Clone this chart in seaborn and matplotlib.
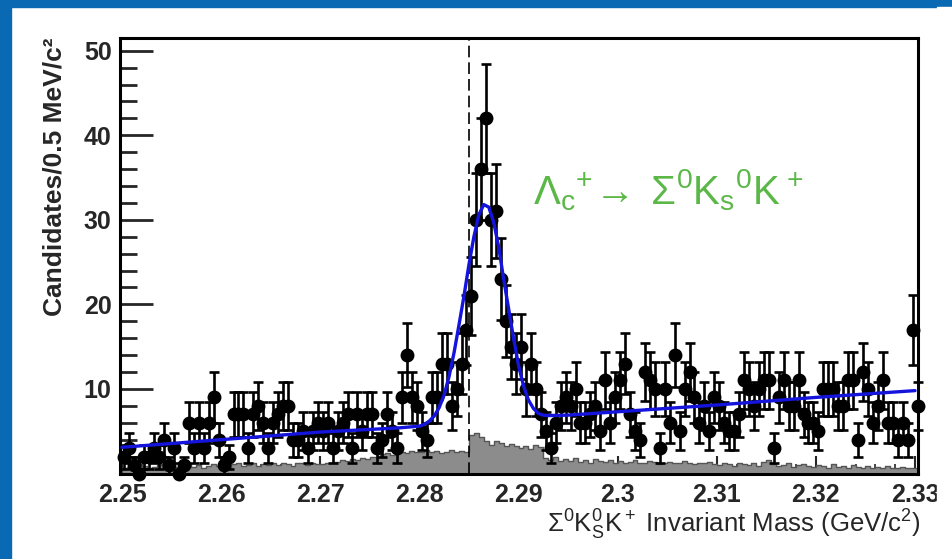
import numpy as np
import pandas as pd
import matplotlib
matplotlib.use("Agg")
import matplotlib.pyplot as plt
from matplotlib.patches import Rectangle
from matplotlib.ticker import MultipleLocator
import seaborn as sns

# binning: 0.5 MeV bins starting at 2.25 GeV
bin_start = 2.25
bin_width = 0.0005

# candidates per bin
counts = [
    2, 3, 1, 0, 2, 2, 3, 2, 4, 1,
    3, 0, 1, 6, 3, 6, 3, 6, 9, 4,
    1, 2, 7, 7, 7, 3, 7, 8, 6, 3,
    6, 7, 8, 8, 4, 4, 5, 3, 5, 6,
    5, 6, 3, 5, 6, 7, 3, 7, 5, 7,
    7, 3, 4, 7, 5, 3, 9, 14, 9, 8,
    5, 4, 9, 9, 13, 13, 8, 10, 13, 17,
    21, 30, 36, 42, 30, 31, 23, 18, 15, 13,
    15, 10, 13, 10, 7, 5, 3, 6, 8, 9,
    8, 10, 6, 6, 7, 8, 5, 11, 6, 9,
    11, 13, 7, 5, 4, 12, 11, 10, 3, 10,
    6, 14, 5, 10, 12, 9, 6, 8, 5, 9,
    8, 6, 5, 5, 7, 11, 10, 8, 10, 11,
    11, 3, 9, 11, 8, 8, 11, 7, 6, 6,
    5, 10, 10, 10, 8, 8, 11, 11, 4, 12,
    10, 6, 8, 11, 6, 6, 4, 6, 4, 17, 8,
]

# grey background histogram
background = [
    0.6, 0.8, 0.5, 0.7, 0.9, 0.6, 0.8, 1.0, 0.7, 0.9,
    0.8, 0.6, 0.9, 1.1, 0.8, 1.0, 0.7, 0.9, 1.1, 0.9,
    1.0, 0.8, 1.1, 1.2, 0.9, 1.0, 1.2, 0.9, 1.1, 1.0,
    1.2, 1.0, 1.3, 1.1, 0.9, 1.2, 1.3, 1.0, 1.2, 1.1,
    1.1, 1.3, 1.2, 1.4, 1.6, 1.5, 1.7, 1.6, 1.8, 1.7,
    2.0, 1.9, 2.3, 2.4, 2.2, 2.5, 2.6, 2.4, 2.7, 2.6,
    2.5, 2.8, 2.6, 2.7, 2.4, 2.6, 2.8, 2.5, 2.7, 2.6,
    4.6, 4.8, 4.3, 3.9, 3.4, 3.8, 3.6, 3.3, 3.5, 3.2,
    3.0, 3.3, 2.9, 3.4, 3.1, 1.8, 1.6, 1.9, 1.5, 1.7,
    1.5, 1.8, 1.4, 1.6, 1.3, 1.7, 1.5, 1.4, 1.6, 1.3,
    1.5, 1.2, 1.4, 1.6, 1.3, 1.2, 1.5, 1.4, 1.1, 1.3,
    1.4, 1.2, 1.3, 1.5, 1.2, 1.1, 1.3, 1.2, 1.4, 1.1,
    1.0, 1.2, 1.1, 0.9, 1.3, 1.1, 1.0, 1.2, 0.9, 1.4,
    1.6, 1.1, 0.9, 1.0, 1.2, 0.8, 1.0, 1.1, 0.9, 0.8,
    1.0, 0.9, 0.7, 1.1, 0.8, 0.9, 0.7, 1.0, 0.8, 0.6,
    0.9, 0.7, 0.8, 0.6, 0.9, 0.7, 0.6, 0.8, 0.7, 0.6, 0.7,
]

# fit curve, points
fit_mass = [
    2.250, 2.260, 2.270, 2.278, 2.280, 2.2805, 2.281, 2.2815, 2.282, 2.2825,
    2.283, 2.2835, 2.284, 2.2845, 2.285, 2.2855, 2.286, 2.2865, 2.287, 2.2875,
    2.288, 2.2885, 2.289, 2.2895, 2.290, 2.2905, 2.291, 2.2915, 2.292, 2.2925,
    2.293, 2.295, 2.300, 2.310, 2.320, 2.330,
]
fit_counts = [
    3.1, 4.0, 4.9, 5.4, 5.6, 5.8, 6.2, 6.8, 7.8, 9.3,
    11.5, 14.3, 17.6, 21.0, 24.7, 28.0, 30.6, 31.8, 31.5, 29.7,
    26.8, 23.0, 19.5, 16.0, 12.8, 10.4, 8.7, 7.7, 7.1, 6.9,
    6.85, 6.9, 7.3, 8.1, 9.0, 9.8,
]

signal_mass = 2.285
tick_labels = ["2.25", "2.26", "2.27", "2.28", "2.29", "2.3", "2.31", "2.32", "2.33"]

sns.set_style("white")
plt.rcParams["font.family"] = ["Liberation Sans", "DejaVu Sans"]
plt.rcParams["mathtext.fontset"] = "custom"
plt.rcParams["mathtext.rm"] = "Liberation Sans"
plt.rcParams["mathtext.it"] = "Liberation Sans"
plt.rcParams["mathtext.bf"] = "Liberation Sans:bold"

n_bins = len(counts)
edges = bin_start + bin_width * np.arange(n_bins + 1)
centers = 0.5 * (edges[:-1] + edges[1:])
counts_arr = np.array(counts, dtype=float)
bkg_df = pd.DataFrame({"mass": centers, "bkg": background})

fig = plt.figure(figsize=(9.52, 5.59), dpi=100)
fig.patch.set_facecolor("white")

# slide frame
slide_blue = "#0a69b3"
fig.patches.append(Rectangle((0, 0), 11 / 952, 1, transform=fig.transFigure,
                             color=slide_blue, zorder=0))
fig.patches.append(Rectangle((0, 1 - 7 / 559), 1, 7 / 559, transform=fig.transFigure,
                             color=slide_blue, zorder=0))

ax = fig.add_axes([120 / 952, 1 - 473.5 / 559, 798 / 952, 435.5 / 559])

sns.histplot(data=bkg_df, x="mass", weights="bkg", bins=list(edges), element="step",
             fill=True, color="#8c8c8c", alpha=1.0, linewidth=1.0, edgecolor="#555555",
             ax=ax, zorder=1)

ax.axvline(signal_mass, color="black", lw=1.2, dashes=(7, 3), zorder=2)

ax.errorbar(centers, counts_arr, yerr=np.sqrt(counts_arr), fmt="o", color="black",
            ms=9, elinewidth=1.9, capsize=3.3, capthick=1.9, clip_on=False, zorder=3)

sns.lineplot(x=fit_mass, y=fit_counts, color="#1414dc", lw=2.4, ax=ax, zorder=4)

ax.text(2.2915, 31.8, r"$\Lambda_c{}^{+}\!\rightarrow\;\Sigma^0 K_s{}^0 K^+$",
        color="#5bb848", fontsize=29, va="baseline", ha="left")

ax.set_xlim(2.2498, 2.3303)
ax.set_ylim(0, 51.5)
ax.set_xlabel("")
ax.set_ylabel("")

ax.xaxis.set_major_locator(MultipleLocator(0.01))
ax.xaxis.set_minor_locator(MultipleLocator(0.002))
ax.yaxis.set_major_locator(MultipleLocator(10))
ax.yaxis.set_minor_locator(MultipleLocator(2))
ax.set_xticks(np.arange(2.25, 2.3301, 0.01))
ax.set_xticklabels(tick_labels)
ax.set_yticks([10, 20, 30, 40, 50])

ax.tick_params(axis="y", which="major", direction="in", length=24, width=2.0,
               labelsize=18, pad=6, left=True)
ax.tick_params(axis="y", which="minor", direction="in", length=12, width=2.0, left=True)
ax.tick_params(axis="x", which="major", direction="in", length=13, width=1.5,
               labelsize=18, pad=7, bottom=True)
ax.tick_params(axis="x", which="minor", direction="in", length=7, width=1.2, bottom=True)
for lab in ax.get_xticklabels() + ax.get_yticklabels():
    lab.set_fontweight("bold")

for side in ["left", "right", "top", "bottom"]:
    ax.spines[side].set_visible(True)
    ax.spines[side].set_linewidth(2.2)
    ax.spines[side].set_color("black")

fig.text(55 / 952, 1 - 38 / 559, "Candidates/0.5 MeV/c²", rotation=90,
         ha="center", va="top", fontsize=19, fontweight="bold")
fig.text(921 / 952, 1 - 525 / 559,
         r"$\Sigma^0\mathrm{K}_\mathrm{S}^0\mathrm{K}^+$ Invariant Mass (GeV/c$^2$)",
         ha="right", va="center", fontsize=18.5)

# the slide picture is cut off just right of the frame
fig.add_artist(Rectangle((937 / 952, 0), 15 / 952, 1 - 7 / 559, transform=fig.transFigure,
                         color="white", zorder=10))

fig.savefig("out.png", dpi=100, facecolor=fig.get_facecolor())
